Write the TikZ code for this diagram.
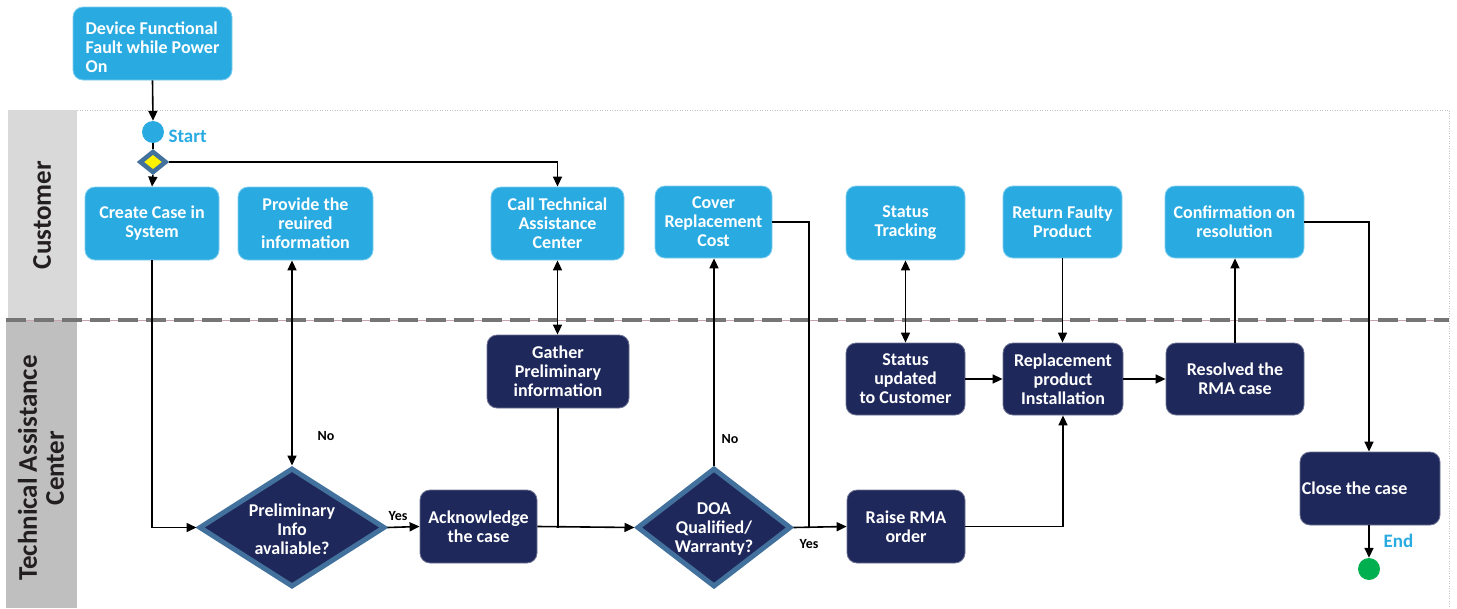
\documentclass[tikz,border=0pt]{standalone}
\usepackage{fontspec}
\setmainfont{Carlito}
\usetikzlibrary{shapes.geometric,arrows.meta}

\definecolor{custblue}{HTML}{29ABE2}
\definecolor{tacnavy}{HTML}{1F285A}
\definecolor{edgeblue}{HTML}{41719C}
\definecolor{lanelight}{HTML}{D9D9D9}
\definecolor{lanedark}{HTML}{BFBFBF}
\definecolor{lanetext}{HTML}{231F20}
\definecolor{sepgrey}{HTML}{757575}
\definecolor{seppink}{HTML}{C9A3B3}
\definecolor{endgreen}{HTML}{00B050}
\definecolor{decyellow}{HTML}{FFF200}

\tikzset{
  boxfont/.style={font=\bfseries\fontsize{18}{19}\selectfont},
  custbox/.style={rectangle, rounded corners=10pt, fill=custblue,
    draw=custblue!60!white, line width=0.8pt, text=white, boxfont,
    align=center, inner sep=2pt},
  tacbox/.style={rectangle, rounded corners=10pt, fill=tacnavy,
    draw=tacnavy!65!white, line width=0.8pt, text=white, boxfont,
    align=center, inner sep=2pt},
  boxtext/.style={text=white, boxfont, inner sep=0pt},
  decision/.style={diamond, fill=tacnavy, draw=edgeblue, line width=5pt,
    inner sep=0pt},
  dectext/.style={boxtext, align=center},
  flow/.style={line width=1.6pt, -{Triangle[length=10pt,width=9pt]}},
  twoway/.style={line width=1.6pt,
    {Triangle[length=10pt,width=9pt]}-{Triangle[length=10pt,width=9pt]}},
  plain/.style={line width=1.6pt},
  tag/.style={font=\bfseries\fontsize{14}{16}\selectfont, text=black},
  termlabel/.style={text=custblue, font=\bfseries\fontsize{19}{21}\selectfont},
  lanelabel/.style={rotate=90, text=lanetext, align=center,
    font=\bfseries\fontsize{27}{27}\selectfont},
}

\begin{document}
\begin{tikzpicture}[x=1pt,y=-1pt]
\useasboundingbox (0,0) rectangle (1457,608);

% swimlane frame and headers
\fill[lanelight] (8,110) rectangle (77,320);
\fill[lanedark] (6,320) rectangle (77,608);
\draw[gray!45, line width=1pt, dash pattern=on 1pt off 1.5pt]
  (77,110) -- (1449,110) -- (1449,608);
\draw[seppink, line width=1pt] (6,320) -- (1449,320);
\draw[sepgrey, line width=4.5pt, dash pattern=on 20pt off 8pt] (6,320) -- (1449,320);

\node[lanelabel] (custlane) at (42,215) {Customer};
\node[lanelabel] (taclane) at (41,468) {Technical Assistance\\Center};

% trigger and start
\node[custbox, minimum width=159, minimum height=73] (fault) at (152.5,43.5) {};
\node[boxtext, align=left] (faulttxt) at (152.5,47) {Device Functional\\Fault while Power\\On};
\node[circle, fill=custblue, minimum size=22, inner sep=0pt] (start) at (153,132) {};
\node[termlabel, anchor=west] (startlbl) at (165,136) {Start};
\node[diamond, fill=decyellow, draw=edgeblue, line width=4.5pt,
  minimum width=27, minimum height=22, inner sep=0pt] (gate) at (153,162) {};

% customer lane
\node[custbox, minimum width=134, minimum height=73] (create) at (152,223.5) {Create Case in\\System};
\node[custbox, minimum width=135, minimum height=73] (provide) at (305.5,223.5) {Provide the\\reuired\\information};
\node[custbox, minimum width=133, minimum height=73] (call) at (557.5,223.5) {Call Technical\\Assistance\\Center};
\node[custbox, minimum width=117, minimum height=72] (cover) at (713.5,222) {Cover\\Replacement\\Cost};
\node[custbox, minimum width=119, minimum height=74] (tracking) at (905.5,223) {Status\\Tracking};
\node[custbox, minimum width=119, minimum height=72] (return) at (1062.5,222) {Return Faulty\\Product};
\node[custbox, minimum width=139, minimum height=72] (confirm) at (1234.5,222) {Confirmation on\\resolution};

% technical assistance center lane
\node[tacbox, minimum width=142, minimum height=73] (gather) at (558,371.5) {Gather\\Preliminary\\information};
\node[tacbox, minimum width=119, minimum height=72] (status) at (905.5,379) {Status\\updated\\to Customer};
\node[tacbox, minimum width=120, minimum height=72] (install) at (1063,379) {Replacement\\product\\Installation};
\node[tacbox, minimum width=138, minimum height=72] (resolved) at (1235,379) {Resolved the\\RMA case};
\node[tacbox, minimum width=117, minimum height=73] (ack) at (478.5,526.5) {Acknowledge\\the case};
\node[tacbox, minimum width=118, minimum height=73] (rma) at (906,526.5) {Raise RMA\\order};
\node[tacbox, minimum width=140, minimum height=73] (close) at (1370,488.5) {};
\node[boxtext, anchor=west] (closetxt) at ([xshift=2pt]close.west) {Close the case};

\node[decision, minimum width=186, minimum height=119] (prelim) at (292,527.5) {};
\node[dectext] (prelimtxt) at (292,529) {Preliminary\\Info\\avaliable?};
\node[decision, minimum width=154, minimum height=119] (doa) at (714,527.5) {};
\node[dectext] (doatxt) at (714,529) {DOA\\Qualified/\\Warranty?};

\node[circle, fill=endgreen, minimum size=22, inner sep=0pt] (endpt) at (1369,569) {};
\node[termlabel, anchor=west] (endlbl) at (1380,541) {End};

% connectors
\draw[flow] (fault.south) -- (start.north);
\draw[plain] (start.south) -- (gate.north);
\draw[flow] (gate.south) -- (create.north);
\draw[flow] (gate.east) -| (call.north);

\draw[flow] (create.south) |- (prelim.west);
\draw[twoway] (prelim.north |- provide.south) -- (prelim.north);
\node[tag] (nolbl1) at (326,436) {No};
\draw[flow] (prelim.east) -- (ack.west);
\node[tag] (yeslbl1) at (398,516) {Yes};

\draw[twoway] (call.south) -- (call.south |- gather.north);
\draw[flow] (ack.east) -- (doa.west);
\draw[plain] (gather.south) -- (gather.south |- doa.west);

\draw[flow] (doa.north) -- (doa.north |- cover.south);
\node[tag] (nolbl2) at (730,439) {No};
\draw[flow] (doa.east) -- (rma.west);
\node[tag] (yeslbl2) at (809,544) {Yes};
\coordinate (costjoin) at (809,527.5);
\draw[plain] (cover.east) -| (costjoin);

\draw[flow] (rma.east) -| (install.south);
\draw[twoway] (tracking.south) -- (status.north);
\draw[flow] (return.south) -- (return.south |- install.north);
\draw[flow] (status.east) -- (install.west);
\draw[flow] (install.east) -- (resolved.west);
\draw[flow] (resolved.north) -- (resolved.north |- confirm.south);
\draw[flow] (confirm.east) -| (endpt.north |- close.north);
\draw[flow] (endpt.north |- close.south) -- (endpt.north);
\end{tikzpicture}
\end{document}
